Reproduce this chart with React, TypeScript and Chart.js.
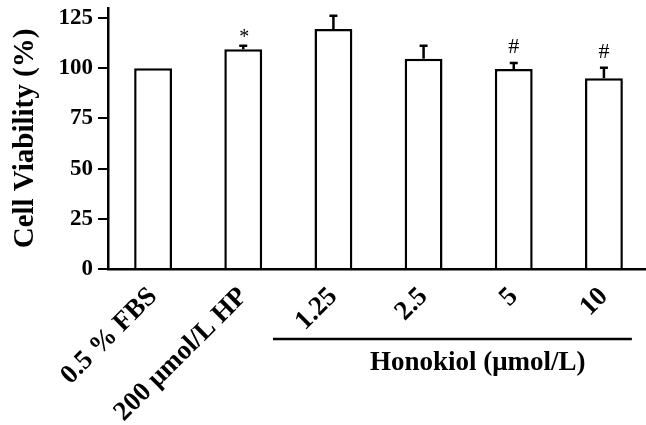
import React, { useEffect, useRef } from 'react';
import { Chart, registerables } from 'chart.js';

Chart.register(...registerables);

const categories = ['0.5 % FBS', '200 μmol/L HP', '1.25', '2.5', '5', '10'];
const viability = [100, 109.5, 119.5, 104.7, 99.6, 95];
const errors = [0, 1.7, 6.7, 6.5, 3, 5.2];
const marks = ['', '*', '', '', '#', '#'];
const yTicks = [0, 25, 50, 75, 100, 125];
const yTitle = 'Cell Viability (%)';
const groupLabel = 'Honokiol (μmol/L)';

const FAMILY = "'Liberation Serif', 'Times New Roman', serif";

const annotatePlugin = {
  id: 'annotate',
  afterDatasetsDraw(chart: any) {
    const { ctx, scales, chartArea } = chart;
    const x = scales.x;
    const y = scales.y;
    const meta = chart.getDatasetMeta(0);
    ctx.save();
    ctx.strokeStyle = '#000';
    ctx.fillStyle = '#000';
    ctx.lineWidth = 2.5;
    meta.data.forEach((bar: any, i: number) => {
      const cx = bar.x;
      const top = y.getPixelForValue(viability[i]);
      const cap = y.getPixelForValue(viability[i] + errors[i]);
      if (errors[i] > 0) {
        ctx.beginPath();
        ctx.moveTo(cx, top);
        ctx.lineTo(cx, cap);
        ctx.moveTo(cx - 4, cap);
        ctx.lineTo(cx + 4, cap);
        ctx.stroke();
      }
      if (marks[i] === '*') {
        ctx.font = `20px ${FAMILY}`;
        ctx.textAlign = 'center';
        ctx.textBaseline = 'alphabetic';
        ctx.fillText('*', cx + 1, cap - 3);
      } else if (marks[i] === '#') {
        ctx.font = `22px ${FAMILY}`;
        ctx.textAlign = 'center';
        ctx.textBaseline = 'alphabetic';
        ctx.fillText('#', cx, cap - 10);
      }
    });
    const catW = x.getPixelForValue(1) - x.getPixelForValue(0);
    const x0 = x.getPixelForValue(2) - catW * 0.67;
    const x1 = x.getPixelForValue(5) + catW * 0.31;
    const ly = chartArea.bottom + 70;
    ctx.lineWidth = 2.5;
    ctx.beginPath();
    ctx.moveTo(x0, ly);
    ctx.lineTo(x1, ly);
    ctx.stroke();
    ctx.font = `bold 27px ${FAMILY}`;
    ctx.textAlign = 'center';
    ctx.textBaseline = 'alphabetic';
    ctx.fillText(groupLabel, x.getPixelForValue(3.6), ly + 31);
    ctx.restore();
  },
};

export default function App() {
  const ref = useRef<HTMLCanvasElement>(null);
  useEffect(() => {
    if (!ref.current) return;
    const chart = new Chart(ref.current, {
      type: 'bar',
      data: {
        labels: categories,
        datasets: [
          {
            data: viability,
            backgroundColor: '#fff',
            borderColor: '#000',
            borderWidth: 2.5,
            barPercentage: 0.42,
            categoryPercentage: 1,
          },
        ],
      },
      options: {
        animation: false,
        responsive: true,
        maintainAspectRatio: false,
        layout: { padding: { top: 8, left: 0, right: 0, bottom: 0 } },
        plugins: { legend: { display: false }, tooltip: { enabled: false } },
        scales: {
          x: {
            afterFit: (s: any) => {
              s.height = 156;
              s.paddingLeft = 0;
              s.paddingRight = 0;
            },
            grid: { display: false },
            border: { display: true, color: '#000', width: 2.5 },
            ticks: {
              autoSkip: false,
              maxRotation: 45,
              minRotation: 45,
              color: '#000',
              padding: 4,
              font: { family: FAMILY, size: 27, weight: 'bold' },
            },
          },
          y: {
            min: 0,
            max: 130,
            afterBuildTicks: (s: any) => {
              s.ticks = yTicks.map((v) => ({ value: v }));
            },
            afterFit: (s: any) => {
              s.width = 108;
              s.paddingTop = 0;
              s.paddingBottom = 0;
            },
            grid: {
              display: true,
              drawOnChartArea: false,
              drawTicks: true,
              tickLength: 10,
              color: '#000',
              lineWidth: 2,
            },
            border: { display: true, color: '#000', width: 2.5 },
            ticks: {
              color: '#000',
              padding: 5,
              font: { family: FAMILY, size: 23, weight: 'bold' },
            },
            title: {
              display: true,
              text: yTitle,
              color: '#000',
              padding: { top: 8, bottom: 0 },
              font: { family: FAMILY, size: 29, weight: 'bold' },
            },
          },
        },
      },
      plugins: [annotatePlugin],
    });
    return () => chart.destroy();
  }, []);
  return (
    <div style={{ position: 'fixed', left: 0, top: 0, width: 646, height: 425, overflow: 'hidden', background: '#fff' }}>
      <div style={{ position: 'relative', width: 649, height: 425 }}>
        <canvas ref={ref} />
      </div>
    </div>
  );
}
